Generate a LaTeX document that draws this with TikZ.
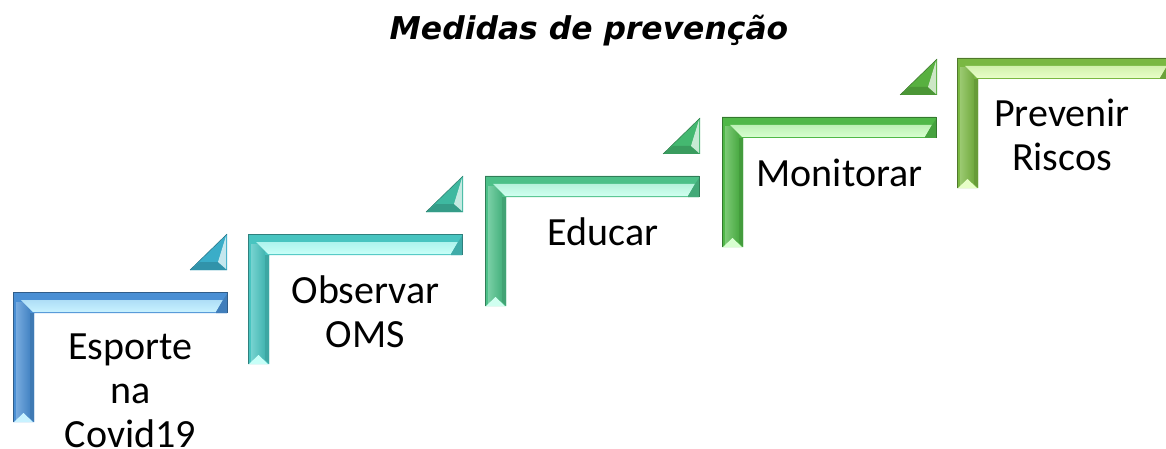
\documentclass[tikz,border=0pt]{standalone}
\usepackage{fontspec}
\setmainfont{Carlito}
\newfontfamily\titlefont{DejaVu Sans}
\definecolor{cA}{HTML}{4A8FD4}\definecolor{pA}{HTML}{C8F2FF}\definecolor{tA}{HTML}{3AADC8}
\definecolor{cB}{HTML}{48C4C0}\definecolor{pB}{HTML}{C8FFF8}\definecolor{tB}{HTML}{3EB8A0}
\definecolor{cC}{HTML}{4CC088}\definecolor{pC}{HTML}{D0FFF0}\definecolor{tC}{HTML}{44B870}
\definecolor{cD}{HTML}{50B848}\definecolor{pD}{HTML}{D8FFD0}\definecolor{tD}{HTML}{58B040}
\definecolor{cE}{HTML}{7AB842}\definecolor{pE}{HTML}{E8FFC8}
\tikzset{
  lbl/.style={anchor=north,align=center,inner sep=0pt,font=\fontsize{40}{44}\selectfont,text=black},
  ttl/.style={font=\titlefont\bfseries\itshape\fontsize{31.4}{34}\selectfont,inner sep=0pt}
}
\begin{document}
\begin{tikzpicture}[x=1pt,y=-1pt]
\useasboundingbox (0,0) rectangle (1166,449);
\clip (0,0) rectangle (1166,449);
\node[ttl] (title) at (589,31) {Medidas de prevenção};
\foreach \L/\T/\c/\p in {13/292/cA/pA, 248/234/cB/pB, 485/176/cC/pC, 722/117/cD/pD, 957/58/cE/pE}{
  % L body
  \fill[\c] (\L,\T) -- (\L+214,\T) -- (\L+214,\T+21) -- (\L+21,\T+21) -- (\L+21,\T+130) -- (\L,\T+130) -- cycle;
  % vertical face shading
  \shade[left color=\c!75!white,right color=\c!92!black] (\L+3,\T+10) rectangle (\L+17,\T+128);
  \fill[\c!85!black] (\L+17,\T+21) -- (\L+21,\T+21) -- (\L+21,\T+130) -- (\L+17,\T+126) -- cycle;
  % horizontal pale face
  \shade[top color=\p!80!\c,bottom color=\p] (\L+8,\T+8) -- (\L+210,\T+8) -- (\L+203,\T+20) -- (\L+20,\T+20) -- cycle;
  \fill[\c!88!black] (\L+210,\T+8) -- (\L+214,\T+2) -- (\L+214,\T+21) -- (\L+203,\T+21) -- (\L+203,\T+20) -- cycle;
  % bottom facet of vertical bar
  \fill[\p] (\L+1,\T+130) -- (\L+20,\T+130) -- (\L+10.5,\T+121) -- cycle;
  % outline
  \draw[\c!65!black,line width=0.6pt] (\L,\T+130) -- (\L,\T) -- (\L+214,\T) -- (\L+214,\T+21);
}
\foreach \R/\B/\t in {227/270/tA, 463/212/tB, 700/154/tC, 937/95/tD}{
  \fill[\t] (\R-37,\B) -- (\R,\B-36) -- (\R,\B) -- cycle;
  \fill[\t!85!black] (\R-37,\B) -- (\R,\B) -- (\R-9,\B-8) -- (\R-27,\B-8) -- cycle;
  \fill[\t!30!white] (\R-1,\B-34) -- (\R-1,\B-1) -- (\R-9,\B-8) -- cycle;
  \draw[\t!65!black,line width=0.5pt] (\R-37,\B) -- (\R,\B-36);
}
\node[lbl] (l1) at (130.5,334) {Esporte\\na\\Covid19};
\node[lbl] (l2) at (365.5,276) {Observar\\OMS};
\node[lbl] (l3) at (603,218) {Educar};
\node[lbl] (l4) at (839.5,159) {Monitorar};
\node[lbl] (l5) at (1062,99) {Prevenir\\Riscos};
\end{tikzpicture}
\end{document}
